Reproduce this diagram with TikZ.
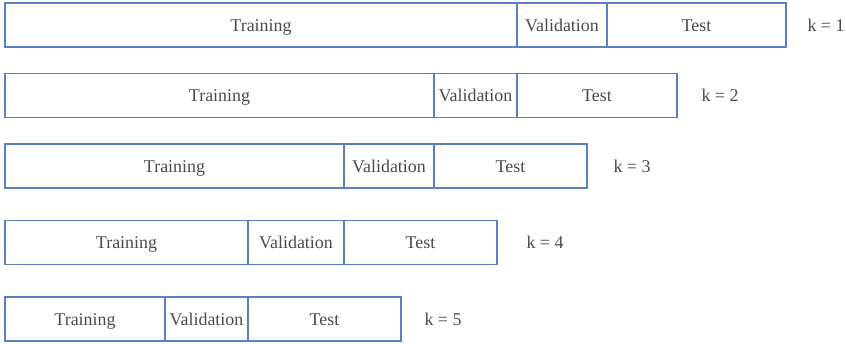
\documentclass[tikz,border=0pt]{standalone}
\usepackage{fontspec}
\setmainfont{Liberation Serif}
\usetikzlibrary{positioning}
\definecolor{boxblue}{HTML}{5A80C2}
\definecolor{txtgray}{HTML}{4A4A4A}
\tikzset{
  part/.style={draw=boxblue, line width=0.6pt, rectangle, inner sep=0pt, outer sep=0pt,
    minimum height=0.88cm, text height=1.55ex, text depth=0pt,
    text=txtgray, font=\fontsize{10.2}{12}\selectfont},
  foldlabel/.style={text=txtgray, text height=1.55ex, text depth=0pt,
    font=\fontsize{10.2}{12}\selectfont}
}
\begin{document}
\begin{tikzpicture}[x=0.02cm, y=-0.02cm]
\useasboundingbox (0,0) rectangle (846,344);
% k / row centre / end of training / end of validation / end of test / label x
\foreach \k/\y/\a/\b/\c/\l in {1/25/517/607/786/826, 2/95.5/434/517/677/720,
  3/166/344/434/587/632, 4/242.5/248/344/497/545, 5/319/165/248/401/443}
{
  \node[part, anchor=west, minimum width={(\a-5)*0.02cm}] (train\k) at (5,\y) {Training};
  \node[part, anchor=west, minimum width={(\b-\a)*0.02cm}] (val\k) at (train\k.east) {Validation};
  \node[part, anchor=west, minimum width={(\c-\b)*0.02cm}] (test\k) at (val\k.east) {Test};
  \node[foldlabel] (k\k) at (\l,\y) {k = \k};
}
\end{tikzpicture}
\end{document}
